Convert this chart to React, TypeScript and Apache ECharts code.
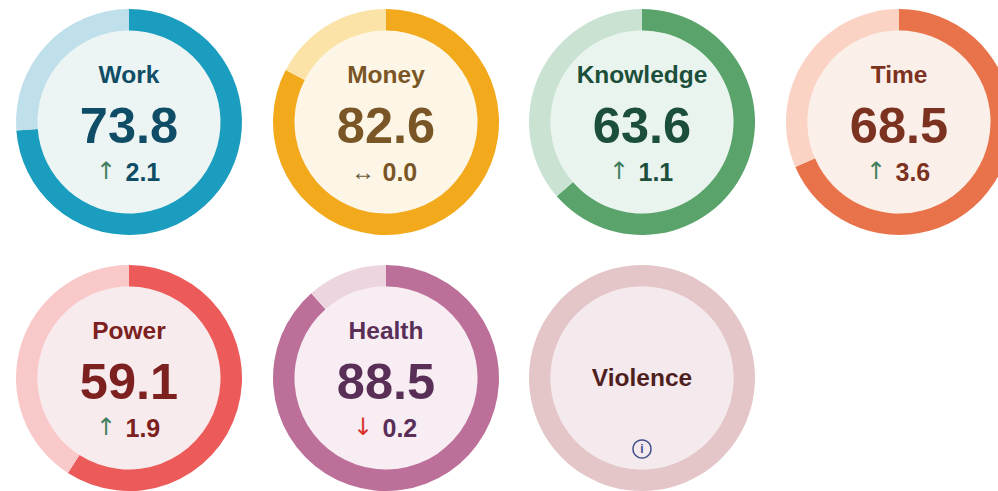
import React, { useEffect, useRef } from "react";
import * as echarts from "echarts";

const names = ["Work", "Money", "Knowledge", "Time", "Power", "Health", "Violence"];
const scores: (number | null)[] = [73.8, 82.6, 63.6, 68.5, 59.1, 88.5, null];
const changes: (string | null)[] = ["2.1", "0.0", "1.1", "3.6", "1.9", "0.2", null];
const arrows: (string | null)[] = ["↑", "↔", "↑", "↑", "↑", "↓", null];
const arrowColors = ["#3f7f5f", "#6b5a3a", "#3f7f5f", "#3f7f5f", "#3f7f5f", "#d8342c", "#000"];
const mainColors = ["#1b9dbf", "#f2a91c", "#5aa46b", "#e8734a", "#ec5a5a", "#bc7099", "#e4c6c8"];
const paleColors = ["#bfdfea", "#fbe3a8", "#c9e2d2", "#fad3c4", "#f9c8c8", "#ecd5df", "#e4c6c8"];
const fillColors = ["#ecf5f3", "#fdf6e7", "#eaf4ef", "#fbf0e9", "#f8ebee", "#f7edf3", "#f4e9ed"];
const textColors = ["#0f4c66", "#7a5626", "#1c4f3a", "#7c3220", "#7c2020", "#5a2f57", "#4f1f1f"];
const centersX = [129, 386, 642, 899, 129, 386, 642];
const centersY = [122, 122, 122, 122, 378, 378, 378];

const FONT = "'Liberation Sans', Arial, sans-serif";
const OUTER = 113;
const INNER = 91.5;

export default function App() {
  const ref = useRef<HTMLDivElement>(null);
  useEffect(() => {
    const chart = echarts.init(ref.current!, undefined, { renderer: "svg" });
    const series: any[] = [];
    const elements: any[] = [];
    const add = (el: any) => elements.push({ z: 100, ...el });
    names.forEach((name, i) => {
      const cx = centersX[i];
      const cy = centersY[i];
      const score = scores[i];
      series.push({
        type: "pie",
        silent: true,
        center: [cx, cy],
        radius: [0, INNER],
        startAngle: 90,
        label: { show: false },
        labelLine: { show: false },
        data: [{ value: 1, name: name + " fill", itemStyle: { color: fillColors[i] } }],
      });
      series.push({
        type: "pie",
        silent: true,
        center: [cx, cy],
        radius: [INNER, OUTER],
        startAngle: 90,
        clockwise: true,
        label: { show: false },
        labelLine: { show: false },
        data:
          score === null
            ? [{ value: 100, name, itemStyle: { color: mainColors[i] } }]
            : [
                { value: score, name, itemStyle: { color: mainColors[i] } },
                { value: 100 - score, name: name + " rest", itemStyle: { color: paleColors[i] } },
              ],
      });
      if (score === null) {
        add({
          type: "text", x: cx, y: cy - 1,
          style: { text: name, font: `700 24.5px ${FONT}`, fill: textColors[i], align: "center", verticalAlign: "middle" },
        });
        add({
          type: "circle", shape: { cx, cy: cy + 71, r: 9 },
          style: { fill: "transparent", stroke: "#3f4f8c", lineWidth: 1.5 },
        });
        add({
          type: "text", x: cx, y: cy + 71,
          style: { text: "i", font: `700 12px ${FONT}`, fill: "#3f4f8c", align: "center", verticalAlign: "middle" },
        });
        return;
      }
      add({
        type: "text", x: cx, y: cy - 48,
        style: { text: name, font: `700 24.5px ${FONT}`, fill: textColors[i], align: "center", verticalAlign: "middle" },
      });
      add({
        type: "text", x: cx, y: cy + 3,
        style: { text: score.toFixed(1), font: `700 50.5px ${FONT}`, fill: textColors[i], align: "center", verticalAlign: "middle" },
      });
      const wide = arrows[i] === "↔";
      add({
        type: "text", x: cx - 23, y: cy + 49,
        style: {
          text: arrows[i]!,
          font: wide ? `400 24px ${FONT}` : `400 24px 'DejaVu Sans', sans-serif`,
          fill: arrowColors[i],
          align: "center",
          verticalAlign: "middle",
        },
      });
      add({
        type: "text", x: cx - 3.5, y: cy + 50,
        style: { text: changes[i]!, font: `700 25px ${FONT}`, fill: textColors[i], align: "left", verticalAlign: "middle" },
      });
    });
    chart.setOption({ animation: false, series, graphic: { elements } });
    return () => chart.dispose();
  }, []);
  return <div ref={ref} style={{ position: "absolute", left: 0, top: 0, width: 998, height: 491 }} />;
}
